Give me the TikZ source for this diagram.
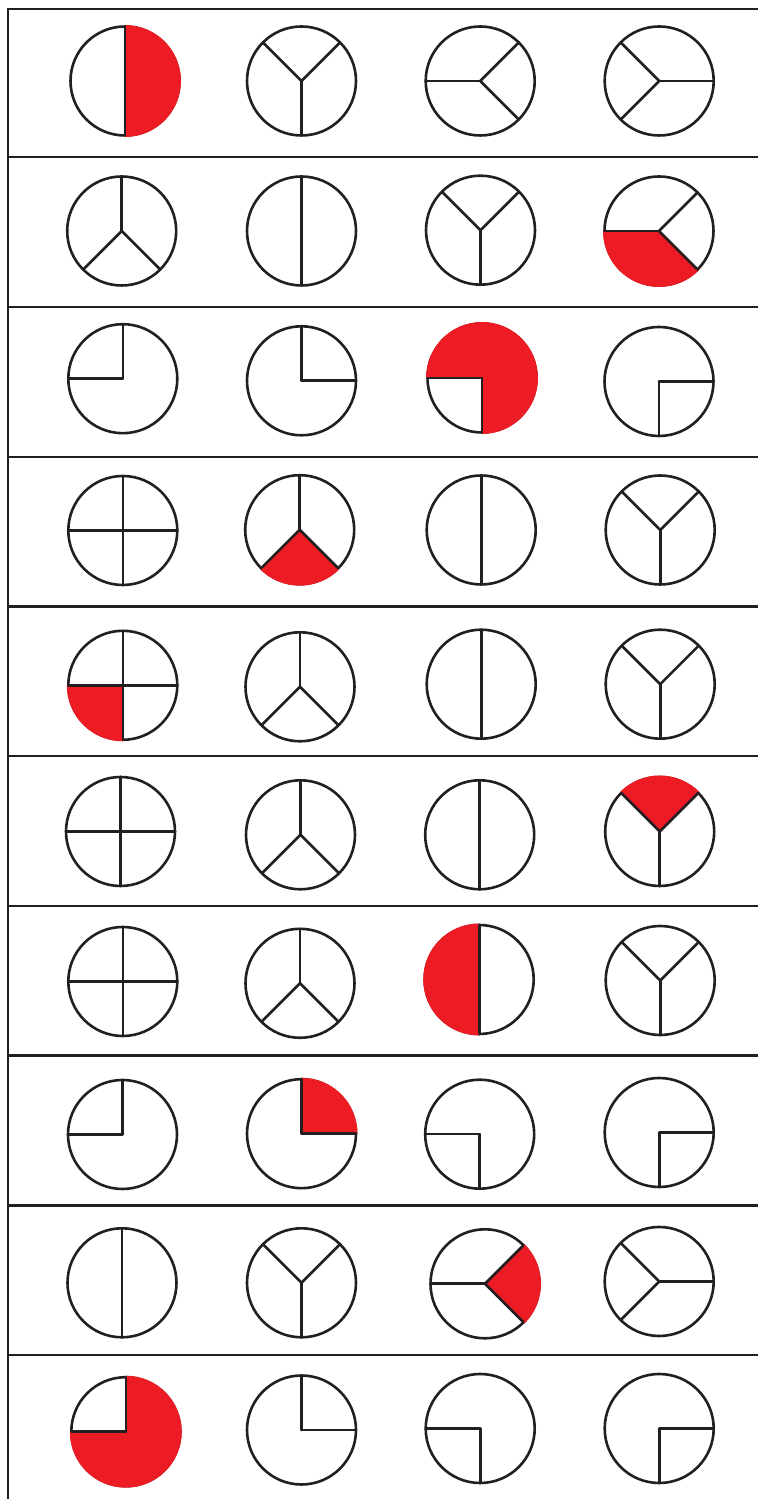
\documentclass[tikz,border=0pt]{standalone}
\usepackage{tikz}

\definecolor{ink}{HTML}{231F20}
\definecolor{pieRed}{HTML}{ED1C24}

\tikzset{
  rim/.style={draw=ink, line width=1.3pt},
  cut/.style={draw=ink, line width=1.3pt, line cap=round},
  shaded/.style={fill=pieRed}
}

% circle with its cuts (angles from the centre)
\newcommand{\piecircle}[3]{%
  \draw[rim] (#1,#2) circle (54.5);
  \foreach \a in {#3} \draw[cut] (#1,#2) -- ++(\a:54.5);
}
% same, with one red part from angle #4 to angle #5
\newcommand{\pieshaded}[5]{%
  \draw[rim] (#1,#2) circle (54.5);
  \fill[shaded] (#1,#2) -- ++(#4:56) arc (#4:#5:56) -- cycle;
  \foreach \a in {#3} \draw[cut] (#1,#2) -- ++(\a:54.5);
}

\begin{document}
\begin{tikzpicture}[x=0.5pt,y=0.5pt]
\useasboundingbox (0,0) rectangle (758,1499);

% Frame
\draw[rim] (8,0) -- (8,1490) -- (758,1490);
\draw[rim] (8,1342) -- (758,1342);
\draw[rim] (8,1192) -- (758,1192);
\draw[rim] (8,1042) -- (758,1042);
\draw[rim] (8,892.5) -- (758,892.5);
\draw[rim] (8,743) -- (758,743);
\draw[rim] (8,593) -- (758,593);
\draw[rim] (8,443.5) -- (758,443.5);
\draw[rim] (8,293.5) -- (758,293.5);
\draw[rim] (8,144) -- (758,144);

% Row 1
\pieshaded{125}{1418}{90,270}{-90}{90}
\piecircle{301.5}{1418}{135,45,270}
\piecircle{480.2}{1418}{180,45,-45}
\piecircle{659.2}{1418}{135,0,225}

% Row 2
\piecircle{121.7}{1268}{90,225,315}
\piecircle{301.5}{1268}{90,270}
\piecircle{480.5}{1268.8}{135,45,270}
\pieshaded{659}{1268}{180,45,-45}{180}{315}

% Row 3
\piecircle{122.8}{1120.3}{90,180}
\piecircle{301.5}{1118.2}{90,0}
\pieshaded{482}{1121}{180,270}{-90}{180}
\piecircle{659}{1117.5}{0,270}

% Row 4
\piecircle{122.8}{968.5}{0,90,180,270}
\pieshaded{299.7}{969.3}{90,225,315}{225}{315}
\piecircle{481.2}{969}{90,270}
\piecircle{660.2}{969}{135,45,270}

% Row 5
\pieshaded{122.8}{813.7}{0,90,180,270}{180}{270}
\piecircle{300}{812.2}{90,225,315}
\piecircle{481.2}{814.8}{90,270}
\piecircle{660.2}{814.8}{135,45,270}

% Row 6
\piecircle{120.5}{667.5}{0,90,180,270}
\piecircle{300.5}{664.2}{90,225,315}
\piecircle{479.7}{664.2}{90,270}
\pieshaded{659.7}{667.5}{135,45,270}{45}{135}

% Row 7
\piecircle{122.8}{517.5}{0,90,180,270}
\piecircle{300}{515.7}{90,225,315}
\pieshaded{479.2}{519.5}{90,270}{90}{270}
\piecircle{660.2}{518.5}{135,45,270}

% Row 8
\piecircle{122.5}{364.5}{90,180}
\pieshaded{301.5}{365.3}{90,0}{0}{90}
\piecircle{479.7}{364.8}{180,270}
\piecircle{659.2}{366.5}{0,270}

% Row 9
\piecircle{122}{216.2}{90,270}
\piecircle{301.5}{216.2}{135,45,270}
\pieshaded{485}{215.2}{180,45,-45}{-45}{45}
\piecircle{659.2}{217.5}{135,0,225}

% Row 10
\pieshaded{125.8}{67.3}{90,180}{180}{450}
\piecircle{301.5}{69}{90,0}
\piecircle{480.2}{70.5}{180,270}
\piecircle{659.2}{70.5}{0,270}
\end{tikzpicture}
\end{document}
